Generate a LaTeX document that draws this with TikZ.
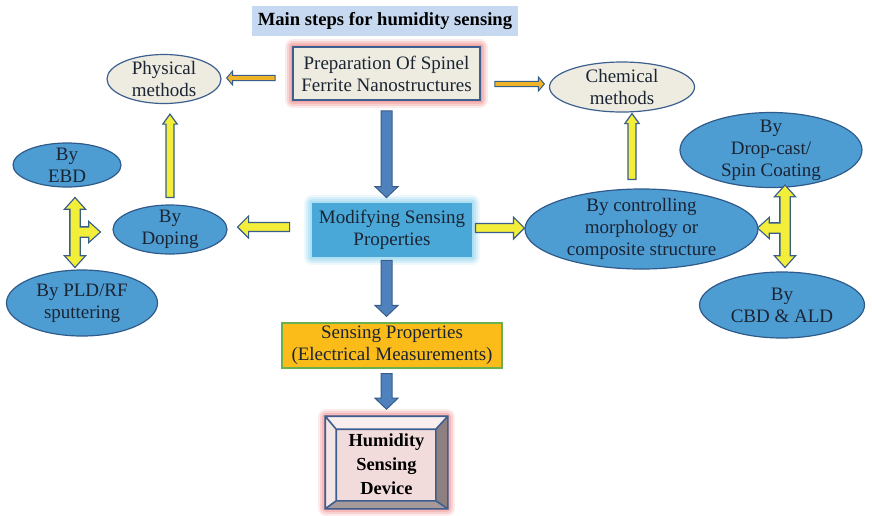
\documentclass[tikz,border=0pt]{standalone}
\usepackage{fontspec}
\setmainfont{Liberation Serif}
\usetikzlibrary{shapes.geometric,calc}

\definecolor{titlebg}{HTML}{C6D9F0}
\definecolor{cream}{HTML}{EEECE1}
\definecolor{boxline}{HTML}{3C5F8F}
\definecolor{ellblue}{HTML}{4D9DD3}
\definecolor{ellline}{HTML}{2F5A8A}
\definecolor{modfill}{HTML}{4AA8D8}
\definecolor{modglow}{HTML}{A6DCF2}
\definecolor{sensefill}{HTML}{FBBC1A}
\definecolor{senseline}{HTML}{6AB04C}
\definecolor{pinkglow}{HTML}{F29A9A}
\definecolor{devfill}{HTML}{F2DCDB}
\definecolor{bevtop}{HTML}{F9EEEE}
\definecolor{bevleft}{HTML}{F3E5E5}
\definecolor{bevright}{HTML}{8E8080}
\definecolor{bevbot}{HTML}{A89A9A}
\definecolor{arrblue}{HTML}{4F81BD}
\definecolor{arrline}{HTML}{385D8A}
\definecolor{yfill}{HTML}{F2EE3A}
\definecolor{goldfill}{HTML}{F0B429}
\definecolor{txt}{HTML}{1B2433}

% block arrow from #1 to #2 (half widths and head length set by the arr keys)
\newcommand\arrowshape[2]{%
  let \p1=#1, \p2=#2, \n1={atan2(\y2-\y1,\x2-\x1)} in
  ($(\p1)+(\n1+90:\arrshaft)$) --
  ($(\p2)+(\n1+180:\arrlen)+(\n1+90:\arrshaft)$) --
  ($(\p2)+(\n1+180:\arrlen)+(\n1+90:\arrhead)$) -- (\p2) --
  ($(\p2)+(\n1+180:\arrlen)+(\n1-90:\arrhead)$) --
  ($(\p2)+(\n1+180:\arrlen)+(\n1-90:\arrshaft)$) --
  ($(\p1)+(\n1-90:\arrshaft)$) -- cycle}
% same with a head on both ends
\newcommand\dblarrowshape[2]{%
  let \p1=#1, \p2=#2, \n1={atan2(\y2-\y1,\x2-\x1)} in
  (\p1) --
  ($(\p1)+(\n1:\arrlen)+(\n1+90:\arrhead)$) --
  ($(\p1)+(\n1:\arrlen)+(\n1+90:\arrshaft)$) --
  ($(\p2)+(\n1+180:\arrlen)+(\n1+90:\arrshaft)$) --
  ($(\p2)+(\n1+180:\arrlen)+(\n1+90:\arrhead)$) -- (\p2) --
  ($(\p2)+(\n1+180:\arrlen)+(\n1-90:\arrhead)$) --
  ($(\p2)+(\n1+180:\arrlen)+(\n1-90:\arrshaft)$) --
  ($(\p1)+(\n1:\arrlen)+(\n1-90:\arrshaft)$) --
  ($(\p1)+(\n1:\arrlen)+(\n1-90:\arrhead)$) -- cycle}

\begin{document}
\begin{tikzpicture}[x=0.5pt, y=-0.5pt,
  every node/.style={font=\fontsize{9.5}{11}\selectfont, text=txt, align=center, inner sep=0pt},
  wh/.style 2 args={minimum width=#1*0.5pt, minimum height=#2*0.5pt},
  glow/.style={preaction={draw=#1, opacity=.2, line width=8pt, line join=round},
    preaction={draw=#1, opacity=.3, line width=6pt, line join=round},
    preaction={draw=#1, opacity=.45, line width=4pt, line join=round},
    preaction={draw=#1, opacity=.7, line width=2pt}},
  method/.style={ellipse, draw=boxline, line width=0.6pt, fill=cream, inner sep=-3pt},
  way/.style={ellipse, draw=ellline, line width=0.6pt, fill=ellblue, inner sep=-4pt},
  arr shaft/.store in=\arrshaft, arr head/.store in=\arrhead, arr len/.store in=\arrlen,
  arr shaft=2pt, arr head=4pt, arr len=4pt,
  flowdown/.style={fill=arrblue, draw=arrline, line width=0.5pt,
    arr shaft=2.75pt, arr head=5.75pt, arr len=5.5pt},
  yblock/.style={fill=yfill, draw=arrline, line width=0.6pt,
    arr shaft=2.25pt, arr head=5.5pt, arr len=5.5pt},
  yup/.style={fill=yfill, draw=arrline, line width=0.6pt,
    arr shaft=2pt, arr head=3.6pt, arr len=5pt},
  ygold/.style={fill=goldfill, draw=arrline, line width=0.5pt,
    arr shaft=1.3pt, arr head=3.5pt, arr len=3pt},
  tjoin/.style={arr shaft=2.25pt, arr head=4.5pt, arr len=5pt},
]
\useasboundingbox (0,0) rectangle (872,515);

% boxes of the main column
\node[fill=titlebg, wh={266}{30}, font=\bfseries\fontsize{9.3}{11}\selectfont, text=black] (title) at (385,21) {Main steps for humidity sensing};
\node[fill=cream, draw=boxline, line width=0.9pt, glow=pinkglow, wh={187}{53}] (prep) at (386.5,73.5) {Preparation Of Spinel\\Ferrite Nanostructures};
\node[fill=modfill, glow=modglow, wh={160}{54}] (mod) at (392,230) {Modifying Sensing\\Properties};
\node[fill=sensefill, draw=senseline, line width=0.6pt, wh={220}{45}] (sense) at (392,345.5) {Sensing Properties\\(Electrical Measurements)};
\node[fill=devfill, draw=boxline, line width=0.8pt, glow=pinkglow, wh={121}{91}] (device) at (386.5,462.5) {};

% ellipses
\node[method, wh={114}{49}] (phys) at (164,79) {Physical\\methods};
\node[method, wh={145}{50}] (chem) at (622,87) {Chemical\\methods};
\node[way, wh={114}{49}] (doping) at (170,229.5) {By\\Doping};
\node[way, wh={108}{44}] (ebd) at (67,165) {By\\EBD};
\node[way, wh={151}{66}] (pld) at (82,303) {By PLD/RF\\sputtering};
\node[way, wh={233}{80}] (ctrl) at (641.5,229) {By controlling\\morphology or\\composite structure};
\node[way, wh={182}{75}] (drop) at (771,150) {By\\Drop-cast/\\Spin Coating};
\node[way, wh={165}{66}] (cbd) at (782,305) {By\\CBD \& ALD};

% bevelled frame of the device
\fill[bevtop] (device.north west) -- (device.north east) -- ($(device.north east)+(-12,13)$) -- ($(device.north west)+(11,13)$) -- cycle;
\fill[bevleft] (device.north west) -- ($(device.north west)+(11,13)$) -- ($(device.south west)+(11,-8)$) -- (device.south west) -- cycle;
\fill[bevright] (device.north east) -- ($(device.north east)+(-12,13)$) -- ($(device.south east)+(-12,-8)$) -- (device.south east) -- cycle;
\fill[bevbot] (device.south west) -- ($(device.south west)+(11,-8)$) -- ($(device.south east)+(-12,-8)$) -- (device.south east) -- cycle;
\draw[boxline, line width=0.8pt] (device.north west) rectangle (device.south east)
  ($(device.north west)+(11,13)$) rectangle ($(device.south east)+(-12,-8)$)
  (device.north west) -- ++(11,13) (device.north east) -- ++(-12,13)
  (device.south west) -- ++(11,-8) (device.south east) -- ++(-12,-8);
\node[font=\bfseries\fontsize{9.2}{12}\selectfont, text=black] (devtext) at ($(device.center)+(0,2)$) {Humidity\\Sensing\\Device};

% blue arrows down the middle
\path[flowdown] \arrowshape{($(prep.south)+(0,10)$)}{($(prep.south |- mod.north)+(0,-5)$)};
\path[flowdown] \arrowshape{($(prep.south |- mod.south)+(0,3)$)}{($(prep.south |- sense.north)+(0,-6)$)};
\path[flowdown] \arrowshape{($(prep.south |- sense.south)+(0,5)$)}{($(prep.south |- device.north)+(0,-7)$)};

% yellow arrows
\path[ygold] \arrowshape{($(prep.west)+(-17,4.5)$)}{($(phys.east)+(5,-1)$)};
\path[ygold] \arrowshape{($(prep.east)+(14,10.5)$)}{($(chem.west)+(-4.5,-3)$)};
\path[yblock] \arrowshape{($(mod.west)+(-22,-3)$)}{($(doping.east)+(10,-2.5)$)};
\path[yblock] \arrowshape{($(mod.east)+(3,-2)$)}{($(ctrl.west)+(0,-1)$)};
\path[yup] \arrowshape{($(doping.north)+(0,-7)$)}{($(doping.north |- phys.south)+(0,10)$)};
\path[yup] \arrowshape{($(chem.south |- ctrl.north)+(10,-9)$)}{($(chem.south)+(10,1)$)};

% T-shaped arrows, outlines first so the joints merge
\coordinate (tl) at (75,232);
\coordinate (tr) at (785,228);
\path[tjoin, draw=arrline, line width=1.3pt] \dblarrowshape{($(tl |- ebd.south)+(0,11)$)}{($(tl |- pld.north)+(0,-3)$)};
\path[tjoin, draw=arrline, line width=1.3pt] \arrowshape{(tl)}{($(tl -| doping.west)+(-13,0)$)};
\path[tjoin, draw=arrline, line width=1.3pt] \dblarrowshape{($(tr |- drop.south)+(0,-2)$)}{($(tr |- cbd.north)+(0,-5)$)};
\path[tjoin, draw=arrline, line width=1.3pt] \arrowshape{(tr)}{(tr -| ctrl.east)};
\path[tjoin, fill=yfill] \dblarrowshape{($(tl |- ebd.south)+(0,11)$)}{($(tl |- pld.north)+(0,-3)$)};
\path[tjoin, fill=yfill] \arrowshape{(tl)}{($(tl -| doping.west)+(-13,0)$)};
\path[tjoin, fill=yfill] \dblarrowshape{($(tr |- drop.south)+(0,-2)$)}{($(tr |- cbd.north)+(0,-5)$)};
\path[tjoin, fill=yfill] \arrowshape{(tr)}{(tr -| ctrl.east)};
\end{tikzpicture}
\end{document}
